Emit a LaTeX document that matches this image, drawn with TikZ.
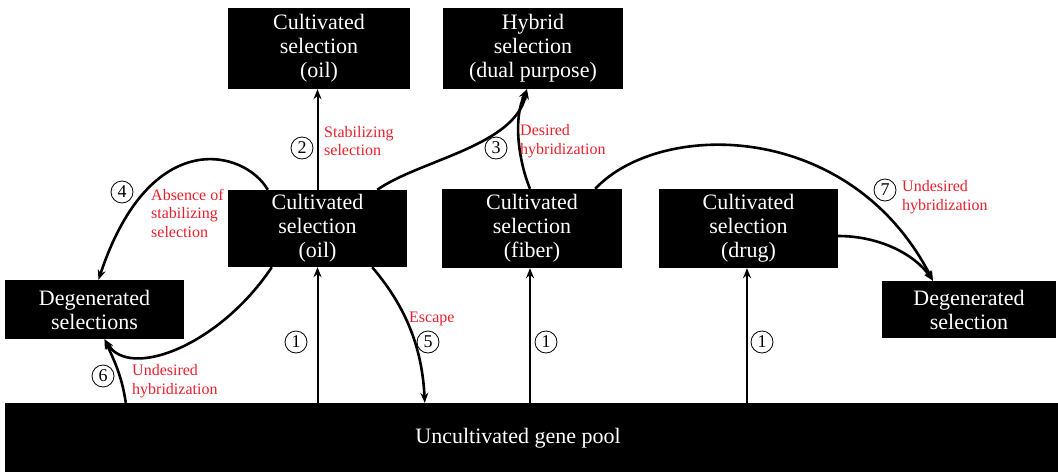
\documentclass[tikz,border=0pt]{standalone}
\usepackage{fontspec}
\setmainfont{Liberation Serif}
\usetikzlibrary{arrows.meta}
\definecolor{lblred}{RGB}{232,32,44}
\begin{document}
\begin{tikzpicture}[x=1pt,y=-1pt,
 box/.style={fill=black,text=white,align=center,inner sep=0pt,font=\fontsize{22}{24}\selectfont},
 lbl/.style={text=lblred,align=left,anchor=west,inner sep=0pt,font=\fontsize{16}{18.5}\selectfont},
 num/.style={circle,draw,line width=0.8pt,minimum size=22pt,inner sep=0pt,font=\fontsize{18}{18}\selectfont},
 conn/.style={line width=2pt,-{Stealth[length=10pt,width=8pt]}},
 curve/.style={conn,line width=2.6pt}]
\useasboundingbox (0,0) rectangle (1058,472);
% boxes
\node[box,minimum width=182pt,minimum height=81pt] (topoil) at (319,48.5) {Cultivated\\selection\\(oil)};
\node[box,minimum width=180pt,minimum height=81pt] (hybrid) at (533,48.5) {Hybrid\\selection\\(dual purpose)};
\node[box,minimum width=179pt,minimum height=77pt] (midoil) at (317.5,228.5) {Cultivated\\selection\\(oil)};
\node[box,minimum width=180pt,minimum height=79pt] (fiber) at (532,228.5) {Cultivated\\selection\\(fiber)};
\node[box,minimum width=179pt,minimum height=79pt] (drug) at (748.5,228.5) {Cultivated\\selection\\(drug)};
\node[box,minimum width=179pt,minimum height=59pt] (degL) at (94.5,309.5) {Degenerated\\selections};
\node[box,minimum width=174pt,minimum height=57pt] (degR) at (969,309.5) {Degenerated\\selection};
\node[fill=black,minimum width=1053pt,minimum height=69pt,inner sep=0pt] (pool) at (531.5,437.5) {};
\node[box,fill=none] (pooltxt) at (518,438) {Uncultivated gene pool};
% vertical arrows
\draw[conn] (pool.north -| midoil.south) -- (midoil.south);
\draw[conn] ([xshift=-2pt]pool.north -| fiber.south) -- ([xshift=-2pt]fiber.south);
\draw[conn] ([xshift=-1.5pt]pool.north -| drug.south) -- ([xshift=-1.5pt]drug.south);
\draw[conn] (midoil.north) -- (midoil.north |- topoil.south);
% to hybrid
\coordinate (htip) at ([xshift=-6pt]hybrid.south);
\draw[curve] ([xshift=-30pt]midoil.north east) .. controls +(43,-30) and +(-12,57) .. (htip);
\draw[curve] ([xshift=-2pt]fiber.north) .. controls +(-10,-24) and +(-15,32) .. (htip);
% 4
\draw[curve] ([xshift=40pt]midoil.north west) .. controls +(-23,-40) and +(51.5,-155) .. ([xshift=4pt]degL.north);
% 6
\coordinate (ltip) at ([xshift=10pt]degL.south);
\draw[curve] ([xshift=44pt]midoil.south west) .. controls +(-52,78) and +(25.5,41) .. (ltip);
\draw[curve] ([xshift=121pt]pool.north west) .. controls +(-4,-28) and +(8.5,19) .. (ltip);
% 5
\draw[curve] ([xshift=-35pt]midoil.south east) .. controls +(28,33) and +(-3,-63) .. ([xshift=420pt]pool.north west);
% 7
\coordinate (rtip) at ([xshift=-36pt]degR.north);
\draw[curve] ([xshift=-27pt]fiber.north east) .. controls +(65,-69) and +(-83,-161) .. (rtip);
\draw[curve] ([yshift=-7.5pt]drug.east) .. controls +(42,0) and +(-18,-26) .. (rtip);
% numbers
\node[num] (n1a) at (296,342) {1};
\node[num] (n1b) at (546,342) {1};
\node[num] (n1c) at (762,342) {1};
\node[num] (n2) at (302,148) {2};
\node[num] (n3) at (496,148) {3};
\node[num] (n4) at (122,192) {4};
\node[num] (n5) at (428,342) {5};
\node[num] (n6) at (103,376) {6};
\node[num] (n7) at (885,190) {7};
% labels
\node[lbl] (l2) at (324,141) {Stabilizing\\selection};
\node[lbl] (l3) at (520,141) {Desired\\hybridization};
\node[lbl] (l4) at (151,213) {Absence of\\stabilizing\\selection};
\node[lbl] (l5) at (409,319) {Escape};
\node[lbl] (l6) at (132,381) {Undesired\\hybridization};
\node[lbl] (l7) at (902,197) {Undesired\\hybridization};
\end{tikzpicture}
\end{document}
